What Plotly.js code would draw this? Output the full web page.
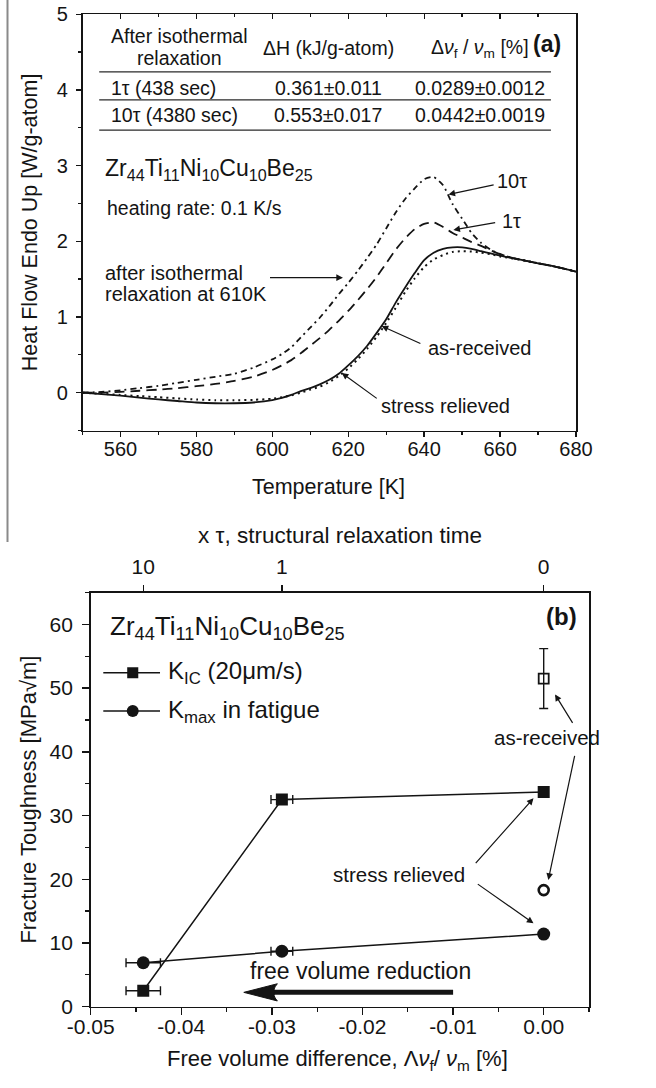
<!DOCTYPE html>
<html>
<head>
<meta charset="utf-8">
<script src="https://cdn.plot.ly/plotly-3.0.1.min.js"></script>
<style>
  html, body { margin: 0; padding: 0; background: #fff; }
  #fig { width: 656px; height: 1088px; }
</style>
</head>
<body>
<div id="fig"></div>
<script>
// ---------- (a) DSC heating scans, Zr44Ti11Ni10Cu10Be25 ----------
const tempK = [550, 555, 560, 565, 570, 575, 580, 585, 590, 595, 600, 602.5, 605, 607.5, 610,
  612.5, 615, 617.5, 620, 622.5, 625, 627.5, 630, 632.5, 635, 637.5, 640, 642.5, 645, 647.5,
  650, 652.5, 655, 657.5, 660, 662.5, 665, 670, 675, 680];
const asReceived = [0.00, -0.02, -0.04, -0.065, -0.09, -0.11, -0.13, -0.14, -0.14, -0.13, -0.10, -0.07, -0.03, 0.02, 0.06,
  0.11, 0.17, 0.25, 0.36, 0.48, 0.62, 0.79, 0.97, 1.19, 1.39, 1.58, 1.75, 1.85, 1.90, 1.92,
  1.92, 1.90, 1.87, 1.84, 1.81, 1.785, 1.76, 1.71, 1.66, 1.60];
const stressRelieved = [0.00, -0.015, -0.03, -0.045, -0.06, -0.075, -0.09, -0.10, -0.10, -0.095, -0.08, -0.06, -0.035, 0.00, 0.04,
  0.08, 0.14, 0.22, 0.32, 0.44, 0.58, 0.74, 0.92, 1.12, 1.33, 1.51, 1.66, 1.76, 1.82, 1.86,
  1.87, 1.865, 1.85, 1.83, 1.80, 1.78, 1.76, 1.71, 1.66, 1.60];
const relaxed1tau = [0.00, 0.00, 0.01, 0.025, 0.04, 0.06, 0.085, 0.115, 0.155, 0.21, 0.30, 0.36, 0.43, 0.52, 0.62,
  0.72, 0.83, 0.95, 1.08, 1.22, 1.37, 1.53, 1.71, 1.89, 2.04, 2.16, 2.23, 2.25, 2.19, 2.11,
  2.05, 1.99, 1.94, 1.88, 1.83, 1.79, 1.76, 1.71, 1.66, 1.60];
const relaxed10tau = [0.00, 0.01, 0.03, 0.06, 0.09, 0.13, 0.17, 0.21, 0.25, 0.33, 0.44, 0.51, 0.60, 0.73, 0.86,
  0.99, 1.14, 1.30, 1.45, 1.61, 1.78, 1.96, 2.17, 2.38, 2.56, 2.70, 2.82, 2.85, 2.74, 2.49,
  2.30, 2.11, 1.98, 1.89, 1.83, 1.79, 1.76, 1.71, 1.66, 1.60];

// inset table: relaxation state, enthalpy release, free volume change
const tableHeader = ['ΔH (kJ/g-atom)', 'Δ<i>ν</i><sub>f</sub> / <i>ν</i><sub>m</sub> [%]'];
const tableStates = ['1τ (438 sec)', '10τ (4380 sec)'];
const tableEnthalpy = ['0.361±0.011', '0.553±0.017'];
const tableFreeVolume = ['0.0289±0.0012', '0.0442±0.0019'];

// ---------- (b) fracture toughness vs free volume difference ----------
const freeVolumeDiff = [0, -0.0289, -0.0442];
const freeVolumeErr = [0, 0.0012, 0.0019];
const kIC = [33.7, 32.5, 2.5];
const kMax = [11.4, 8.7, 6.9];
const asRecFV = [0];
const asRecKIC = [51.5];
const asRecKICErr = [4.7];
const asRecKmax = [18.3];
const fvTickVals = [-0.05, -0.04, -0.03, -0.02, -0.01, 0];
const fvTickText = ['-0.05', '-0.04', '-0.03', '-0.02', '-0.01', '0.00'];
const tauTickVals = [-0.0442, -0.0289, 0];
const tauTickText = ['10', '1', '0'];

const W = 656, H = 1088;
const FONT = 'Liberation Sans, Arial, Helvetica, sans-serif';
const INK = '#141414';
const px = v => v / W;          // pixel column -> paper x
const py = v => 1 - v / H;      // pixel row -> paper y

const lineCurve = (y, dash, width, name) => ({
  x: tempK, y: y, xaxis: 'x', yaxis: 'y', mode: 'lines', name: name,
  line: { color: INK, width: width, dash: dash, shape: 'spline', smoothing: 0.6 },
  showlegend: false, hoverinfo: 'skip'
});

const errX = { type: 'data', array: freeVolumeErr, visible: true, color: INK, thickness: 1.4, width: 4.5 };

const traces = [
  lineCurve(stressRelieved, '2px,4px', 2.0, 'stress relieved'),
  lineCurve(asReceived, 'solid', 1.8, 'as-received'),
  lineCurve(relaxed1tau, '10px,6px', 1.8, '1τ'),
  lineCurve(relaxed10tau, '6px,4px,2px,4px', 1.8, '10τ'),
  {
    x: freeVolumeDiff, y: kIC, xaxis: 'x2', yaxis: 'y2', mode: 'lines+markers', name: 'K_IC',
    line: { color: INK, width: 1.5 }, marker: { symbol: 'square', size: 12, color: INK },
    error_x: errX, showlegend: false, hoverinfo: 'skip'
  },
  {
    x: freeVolumeDiff, y: kMax, xaxis: 'x2', yaxis: 'y2', mode: 'lines+markers', name: 'K_max',
    line: { color: INK, width: 1.5 }, marker: { symbol: 'circle', size: 13, color: INK },
    error_x: errX, showlegend: false, hoverinfo: 'skip'
  },
  {
    x: asRecFV, y: asRecKIC, xaxis: 'x2', yaxis: 'y2', mode: 'markers', name: 'K_IC as-received',
    marker: { symbol: 'square-open', size: 10, color: INK, line: { width: 1.8, color: INK } },
    error_y: { type: 'data', array: asRecKICErr, visible: true, color: INK, thickness: 1.4, width: 4.5 },
    showlegend: false, hoverinfo: 'skip'
  },
  {
    x: asRecFV, y: asRecKmax, xaxis: 'x2', yaxis: 'y2', mode: 'markers', name: 'K_max as-received',
    marker: { symbol: 'circle-open', size: 10, color: INK, line: { width: 2.6, color: INK } },
    showlegend: false, hoverinfo: 'skip'
  },
  // hosts for the extra tick axes
  { x: [], y: [], xaxis: 'x3', yaxis: 'y2', showlegend: false },
  { x: [], y: [], xaxis: 'x4', yaxis: 'y', showlegend: false }
];

const baseAxis = {
  showgrid: false, zeroline: false, showline: true, linecolor: INK, linewidth: 1.6,
  ticks: 'outside', tickcolor: INK, tickwidth: 1.4, automargin: false
};

// ---------- annotations ----------
const ann = [];
const txt = (x, y, text, size, extra) => Object.assign({
  x: x, y: y, text: text, showarrow: false,
  font: { family: FONT, size: size, color: INK }
}, extra || {});
const arrow = (xref, yref, x, y, ax, ay) => ({
  x: x, y: y, ax: ax, ay: ay, xref: xref, yref: yref, axref: xref, ayref: yref,
  text: '', showarrow: true, arrowhead: 2, arrowsize: 1.1, arrowwidth: 1.2, arrowcolor: INK, standoff: 0
});
const A = { xref: 'x', yref: 'y' };
const B = { xref: 'x2', yref: 'y2' };

// (a) table
ann.push(txt(575.5, 4.71, 'After isothermal', 19.5, A));
ann.push(txt(575.5, 4.42, 'relaxation', 19.5, A));
ann.push(txt(614.7, 4.55, tableHeader[0], 19.5, A));
ann.push(txt(654.7, 4.55, tableHeader[1], 19.5, A));
ann.push(txt(672.4, 4.61, '<b>(a)</b>', 23, A));
const rowY = [4.02, 3.67];
tableStates.forEach((s, i) => {
  ann.push(txt(557.1, rowY[i], s, 19.5, Object.assign({ xanchor: 'left' }, A)));
  ann.push(txt(614.7, rowY[i], tableEnthalpy[i], 19.5, A));
  ann.push(txt(654.7, rowY[i], tableFreeVolume[i], 19.5, A));
});
// (a) labels
ann.push(txt(555.4, 2.95, 'Zr<sub>44</sub>Ti<sub>11</sub>Ni<sub>10</sub>Cu<sub>10</sub>Be<sub>25</sub>', 23, Object.assign({ xanchor: 'left' }, A)));
ann.push(txt(555.9, 2.44, 'heating rate: 0.1 K/s', 19.5, Object.assign({ xanchor: 'left' }, A)));
ann.push(txt(555.5, 1.585, 'after isothermal', 20, Object.assign({ xanchor: 'left' }, A)));
ann.push(txt(555.5, 1.30, 'relaxation at 610K', 20, Object.assign({ xanchor: 'left' }, A)));
ann.push(arrow('x', 'y', 618.6, 1.52, 599.0, 1.52));
ann.push(txt(663.1, 2.80, '10τ', 20, A));
ann.push(arrow('x', 'y', 646.4, 2.62, 658.7, 2.75));
ann.push(txt(663.1, 2.27, '1τ', 20, A));
ann.push(arrow('x', 'y', 647.7, 2.15, 659.1, 2.25));
ann.push(txt(654.5, 0.59, 'as-received', 20, A));
ann.push(arrow('x', 'y', 628.8, 0.88, 639.4, 0.64));
ann.push(txt(645.7, -0.18, 'stress relieved', 20, A));
ann.push(arrow('x', 'y', 618.3, 0.26, 627.9, -0.09));
// (a) x-axis title
ann.push(txt(px(329), py(487), 'Temperature [K]', 21.5, { xref: 'paper', yref: 'paper' }));

// (b) labels
ann.push(txt(-0.04806, 59.5, 'Zr<sub>44</sub>Ti<sub>11</sub>Ni<sub>10</sub>Cu<sub>10</sub>Be<sub>25</sub>', 26, Object.assign({ xanchor: 'left' }, B)));
ann.push(txt(-0.04169, 52.4, 'K<sub>IC</sub> (20μm/s)', 24, Object.assign({ xanchor: 'left' }, B)));
ann.push(txt(-0.04169, 46.4, 'K<sub>max</sub> in fatigue', 24, Object.assign({ xanchor: 'left' }, B)));
ann.push(txt(0.0020, 61.3, '<b>(b)</b>', 24, B));
ann.push(txt(px(602), 42.2, 'as-received', 20.5, { xref: 'paper', yref: 'y2' }));
ann.push(arrow('x2', 'y2', 0.00125, 49.0, 0.00329, 44.3));
ann.push(arrow('x2', 'y2', 0.00051, 19.9, 0.00345, 39.6));
ann.push(txt(-0.0160, 20.8, 'stress relieved', 20.5, B));
ann.push(arrow('x2', 'y2', -0.00113, 32.7, -0.00765, 22.3));
ann.push(arrow('x2', 'y2', -0.00113, 13.1, -0.00744, 19.4));
ann.push(txt(-0.0202, 5.65, 'free volume reduction', 23, B));
// (b) top and bottom axis titles
ann.push(txt(px(340), py(535), 'x τ, structural relaxation time', 22.5, { xref: 'paper', yref: 'paper' }));
ann.push(txt(px(337), py(1076), 'Free volume difference, Λ<i>ν</i><sub>f</sub>/ <i>ν</i><sub>m</sub> [%]', 22, { xref: 'paper', yref: 'paper' }));

// ---------- shapes ----------
const shapes = [];
// frame edge on the left of the upper figure
shapes.push({ type: 'line', xref: 'paper', yref: 'paper', x0: px(7.5), x1: px(7.5), y0: py(0), y1: py(542),
  line: { color: '#8a8a8a', width: 2 } });
// table rules
[4.24, 3.87, 3.47].forEach(y => shapes.push({ type: 'line', xref: 'x', yref: 'y', x0: 554.4, x1: 673.4, y0: y, y1: y,
  line: { color: '#2a2a2a', width: 1.3 } }));
// legend keys in (b)
[52.4, 46.4].forEach(y => shapes.push({ type: 'line', xref: 'x2', yref: 'y2', x0: -0.04861, x1: -0.04235, y0: y, y1: y,
  line: { color: INK, width: 1.5 } }));
shapes.push({ type: 'rect', xref: 'x2', yref: 'y2', x0: -0.04597, x1: -0.04475, y0: 51.54, y1: 53.26,
  fillcolor: INK, line: { width: 0 } });
shapes.push({ type: 'circle', xref: 'x2', yref: 'y2', x0: -0.04602, x1: -0.04470, y0: 45.46, y1: 47.34,
  fillcolor: INK, line: { width: 0 } });
// thick "free volume reduction" arrow
shapes.push({ type: 'line', xref: 'x2', yref: 'y2', x0: -0.0100, x1: -0.0300, y0: 2.25, y1: 2.25,
  line: { color: INK, width: 5 } });
shapes.push({ type: 'path', xref: 'x2', yref: 'y2',
  path: 'M-0.0331,2.25 L-0.0294,3.6 Q-0.0300,2.6 -0.0296,2.25 Q-0.0300,1.9 -0.0294,0.9 Z',
  fillcolor: INK, line: { color: INK, width: 1 } });

const layout = {
  width: W, height: H,
  margin: { l: 0, r: 0, t: 0, b: 0 },
  paper_bgcolor: '#fff', plot_bgcolor: '#fff',
  font: { family: FONT, color: INK },
  showlegend: false, hovermode: false,
  xaxis: Object.assign({}, baseAxis, {
    domain: [px(82.5), px(576)], anchor: 'y', range: [550, 680],
    tick0: 560, dtick: 20, ticklen: 5, mirror: true,
    tickfont: { family: FONT, size: 20, color: INK }, ticklabelstandoff: -5,
    minor: { dtick: 10, tick0: 550, ticks: 'outside', ticklen: 3, tickcolor: INK, tickwidth: 1.3 }
  }),
  xaxis4: {
    overlaying: 'x', anchor: 'y', side: 'top', range: [550, 680], showgrid: false, zeroline: false,
    showline: false, showticklabels: false, ticks: 'inside', tick0: 560, dtick: 20, ticklen: 5,
    tickcolor: INK, tickwidth: 1.3,
    minor: { dtick: 10, tick0: 550, ticks: 'inside', ticklen: 3, tickcolor: INK, tickwidth: 1.3 }
  },
  yaxis: Object.assign({}, baseAxis, {
    domain: [py(430.5), py(14.3)], anchor: 'x', range: [-0.5, 5],
    tick0: 0, dtick: 1, ticklen: 5, mirror: true,
    tickfont: { family: FONT, size: 20, color: INK }, ticklabelstandoff: 4,
    minor: { dtick: 0.5, tick0: 0, ticks: 'outside', ticklen: 3, tickcolor: INK, tickwidth: 1.3 },
    title: { text: 'Heat Flow Endo Up [W/g-atom]', standoff: 13, font: { family: FONT, size: 21.5, color: INK } }
  }),
  xaxis2: Object.assign({}, baseAxis, {
    domain: [px(90.7), px(589)], anchor: 'y2', range: [-0.05, 0.005],
    tickmode: 'array', tickvals: fvTickVals, ticktext: fvTickText, ticklen: 7, mirror: true,
    tickfont: { family: FONT, size: 21, color: INK }, ticklabelstandoff: -7,
    minor: { tickmode: 'linear', tick0: -0.05, dtick: 0.005, ticks: 'outside', ticklen: 4, tickcolor: INK, tickwidth: 1.3 }
  }),
  xaxis3: {
    overlaying: 'x2', anchor: 'y2', side: 'top', range: [-0.05, 0.005], showgrid: false, zeroline: false,
    showline: false, ticks: 'outside', ticklen: 7, tickcolor: INK, tickwidth: 1.4,
    tickmode: 'array', tickvals: tauTickVals, ticktext: tauTickText,
    tickfont: { family: FONT, size: 21, color: INK }, ticklabelstandoff: 2
  },
  yaxis2: Object.assign({}, baseAxis, {
    domain: [py(1006.7), py(592.5)], anchor: 'x2', range: [0, 65],
    tick0: 0, dtick: 10, ticklen: 7, mirror: true,
    tickfont: { family: FONT, size: 21, color: INK }, ticklabelstandoff: 5,
    minor: { dtick: 5, tick0: 0, ticks: 'outside', ticklen: 4, tickcolor: INK, tickwidth: 1.3 },
    title: { text: 'Fracture Toughness [MPa√m]', standoff: 7, font: { family: FONT, size: 22, color: INK } }
  }),
  annotations: ann,
  shapes: shapes
};

Plotly.newPlot('fig', traces, layout, { staticPlot: true, displayModeBar: false });
</script>
</body>
</html>
